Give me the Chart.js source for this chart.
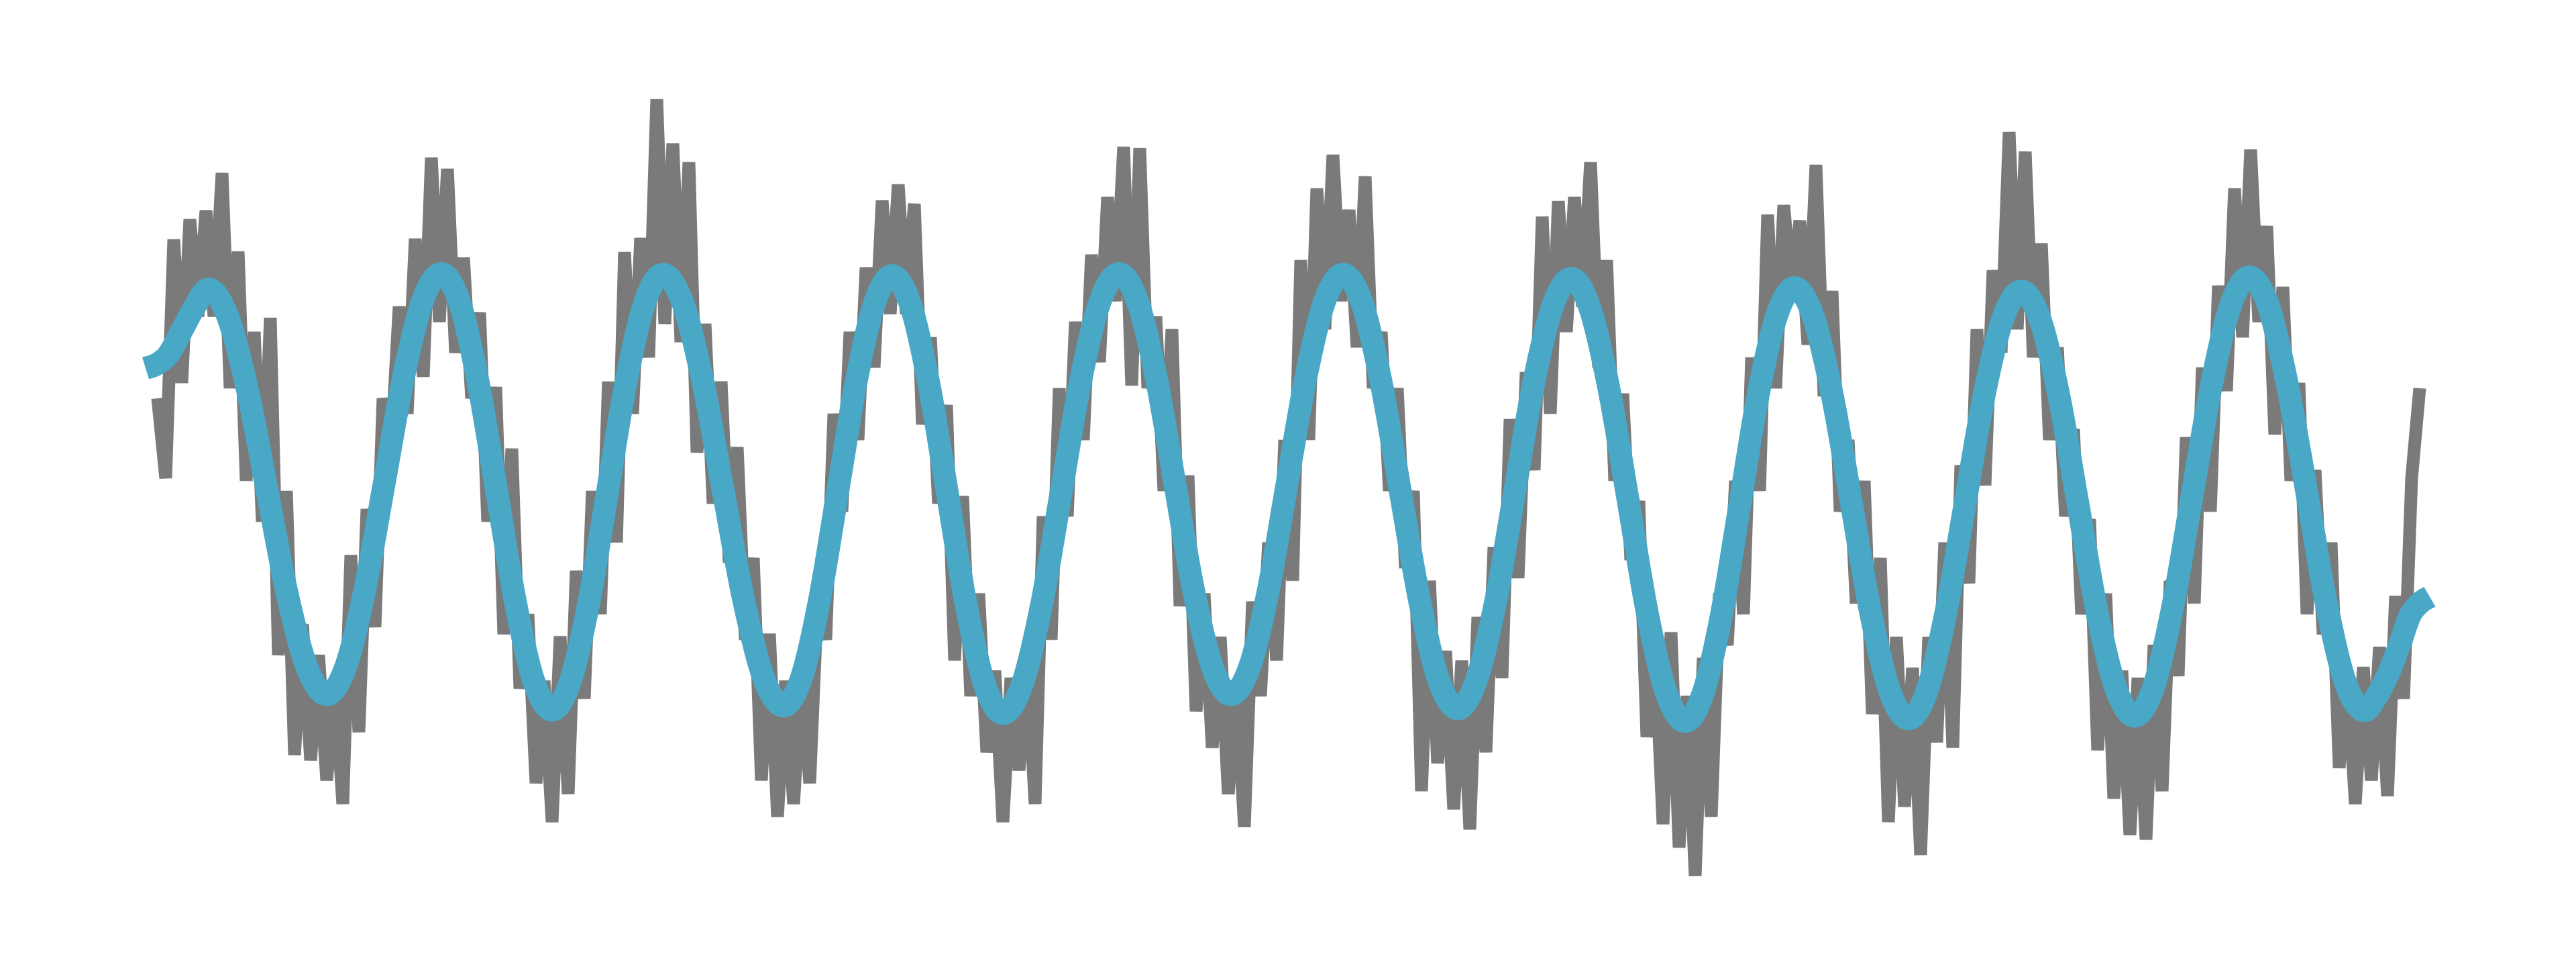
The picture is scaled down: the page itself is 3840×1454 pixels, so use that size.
<!DOCTYPE html>
<html>
<head>
<meta charset="utf-8">
<script src="https://cdn.jsdelivr.net/npm/chart.js@4.4.1/dist/chart.umd.min.js"></script>
<style>
html,body{margin:0;padding:0;background:#ffffff;overflow:hidden}
#wrap{width:3840px;height:1454px;position:relative}
</style>
</head>
<body>
<div id="wrap"><canvas id="c"></canvas></div>
<script>
// Smoothed signal: sample times and values
const smoothTime = [
  2.17, 2.30, 2.50, 2.70, 2.90, 3.10,
  3.395, 3.69, 3.985, 4.28, 4.575, 4.87,
  5.155, 5.44, 5.725, 6.01, 6.295, 6.58,
  6.855, 7.13, 7.405, 7.68, 7.955, 8.23,
  8.505, 8.78, 9.055, 9.33, 9.605, 9.88,
  10.18, 10.48, 10.78, 11.08, 11.38, 11.68,
  11.95, 12.22, 12.49, 12.76, 13.03, 13.30,
  13.575, 13.85, 14.125, 14.40, 14.675, 14.95,
  15.24, 15.53, 15.815, 16.10, 16.39, 16.68,
  16.96, 17.24, 17.515, 17.79, 18.07, 18.35,
  18.63, 18.91, 19.185, 19.46, 19.74, 20.02,
  20.305, 20.59, 20.875, 21.16, 21.445, 21.73,
  22.01, 22.295, 22.575, 22.855, 23.14, 23.42,
  23.70, 23.985, 24.27, 24.55, 24.835, 25.12,
  25.39, 25.665, 25.935, 26.205, 26.48, 26.75,
  27.03, 27.315, 27.60, 27.88, 28.165, 28.45,
  28.73, 29.01, 29.29, 29.57, 29.85, 30.13,
  30.41, 30.695, 30.975, 31.255, 31.54, 31.82,
  32.105, 32.39, 32.675, 32.96, 33.245, 33.53,
  33.815, 34.10, 34.39, 34.675, 34.96, 35.25,
  35.43, 35.60, 35.77, 35.93, 36.10, 36.22
];
const smoothValue = [
  1.91, 1.95, 2.10, 2.45, 2.82, 3.09,
  2.68, 1.58, 0.07, -1.45, -2.55, -2.96,
  -2.54, -1.39, 0.18, 1.75, 2.90, 3.32,
  2.88, 1.69, 0.07, -1.56, -2.75, -3.19,
  -2.75, -1.57, 0.06, 1.69, 2.87, 3.31,
  2.88, 1.70, 0.09, -1.52, -2.70, -3.13,
  -2.70, -1.53, 0.08, 1.69, 2.86, 3.29,
  2.85, 1.66, 0.03, -1.61, -2.80, -3.24,
  -2.80, -1.60, 0.04, 1.68, 2.88, 3.32,
  2.90, 1.75, 0.18, -1.39, -2.54, -2.96,
  -2.54, -1.39, 0.18, 1.74, 2.89, 3.31,
  2.88, 1.69, 0.07, -1.55, -2.74, -3.17,
  -2.74, -1.57, 0.04, 1.65, 2.82, 3.25,
  2.81, 1.60, -0.06, -1.71, -2.92, -3.36,
  -2.93, -1.75, -0.13, 1.49, 2.68, 3.11,
  2.68, 1.50, -0.11, -1.71, -2.89, -3.32,
  -2.89, -1.72, -0.13, 1.47, 2.63, 3.06,
  2.64, 1.48, -0.11, -1.70, -2.86, -3.28,
  -2.84, -1.64, 0.00, 1.63, 2.83, 3.27,
  2.84, 1.65, 0.04, -1.58, -2.77, -3.20,
  -2.98, -2.65, -2.22, -1.77, -1.57, -1.50
];
// Raw noisy signal, one value per sample
const rawValue = [
  1.46, 0.27, 3.83, 1.69, 4.13, 2.68, 4.26, 2.68, 4.82, 1.61,
  3.65, 0.23, 2.45, -0.38, 2.66, -2.37, 0.08, -3.86, -1.91, -3.94,
  -2.37, -4.24, -2.75, -4.59, -0.88, -3.52, -0.19, -1.95, 1.46, 0.69,
  2.83, 1.23, 3.84, 1.78, 5.05, 2.60, 4.88, 2.14, 3.56, 1.46,
  2.74, -0.38, 1.63, -2.06, 0.71, -2.87, -1.76, -4.28, -2.75, -4.86,
  -2.09, -4.44, -1.11, -3.02, 0.08, -1.76, 1.71, -0.69, 3.64, 1.23,
  3.85, 2.07, 5.92, 2.57, 5.26, 2.30, 4.98, 0.65, 2.57, -0.11,
  1.71, -0.99, 0.73, -2.14, -0.92, -4.24, -2.05, -4.78, -2.75, -4.59,
  -2.60, -4.28, -1.45, -2.14, 1.23, -0.23, 2.45, 0.84, 3.41, 1.92,
  4.41, 2.72, 4.65, 2.72, 4.36, 1.07, 2.37, -0.11, 1.36, -2.45,
  0.00, -2.98, -1.45, -3.82, -2.60, -4.86, -2.71, -4.09, -2.45, -4.59,
  -0.30, -2.14, 1.61, -0.30, 2.60, 0.84, 3.60, 2.00, 4.46, 2.91,
  5.21, 1.65, 5.19, 1.61, 2.68, 0.08, 2.49, -1.64, 0.31, -3.21,
  -1.45, -3.75, -2.10, -4.44, -2.75, -4.93, -1.57, -2.98, -0.69, -2.45,
  0.84, -1.26, 3.52, 0.84, 4.59, 2.49, 5.09, 2.91, 4.27, 2.22,
  4.77, 1.61, 2.45, 0.08, 1.61, -1.07, 0.08, -4.40, -1.26, -3.98,
  -2.31, -4.67, -2.45, -4.97, -1.80, -3.82, -0.76, -2.71, 1.15, -1.22,
  1.85, 0.39, 4.17, 1.23, 4.40, 2.45, 4.46, 2.83, 4.98, 1.92,
  3.52, 0.23, 1.53, -0.95, -0.07, -3.59, -2.22, -4.89, -2.03, -5.24,
  -2.98, -5.66, -2.41, -4.78, -1.45, -2.22, 0.23, -1.76, 2.07, 0.08,
  4.20, 1.61, 4.34, 2.99, 4.11, 2.26, 4.94, 1.49, 3.06, -0.23,
  0.84, -1.60, 0.23, -3.25, -0.92, -4.86, -2.10, -4.63, -2.56, -5.35,
  -2.10, -3.67, -0.69, -3.75, 0.46, -1.30, 2.49, 0.16, 3.37, 2.14,
  5.43, 2.49, 5.14, 2.07, 3.77, 0.84, 2.22, -0.30, 1.00, -1.76,
  -0.34, -3.79, -1.45, -4.51, -2.60, -5.05, -2.71, -5.12, -2.22, -4.40,
  -1.26, -2.68, 0.88, -1.60, 1.92, -0.23, 3.14, 1.57, 4.59, 2.37,
  5.17, 2.60, 4.03, 0.92, 3.12, 0.23, 1.69, -1.76, 0.39, -2.06,
  -0.69, -4.05, -2.60, -4.59, -2.55, -4.24, -2.25, -4.47, -1.49, -3.02,
  0.27, 1.61
];
// sample numbers of the raw signal
const rawSample = rawValue.map((_, i) => i);

const smoothPoints = smoothTime.map((t, i) => ({ x: t, y: smoothValue[i] }));
const rawPoints = rawSample.map((s, i) => ({ x: s, y: rawValue[i] }));

new Chart(document.getElementById('c'), {
  type: 'line',
  data: {
    datasets: [
      {
        label: 'smoothed',
        data: smoothPoints,
        xAxisID: 'x',
        yAxisID: 'y',
        borderColor: '#49a8c6',
        borderWidth: 34,
        pointRadius: 0,
        cubicInterpolationMode: 'monotone',
        borderJoinStyle: 'round',
        borderCapStyle: 'butt',
        fill: false,
        order: 0
      },
      {
        label: 'raw',
        data: rawPoints,
        xAxisID: 'xs',
        yAxisID: 'y',
        borderColor: '#7a7a7a',
        borderWidth: 19,
        pointRadius: 0,
        tension: 0,
        borderJoinStyle: 'bevel',
        borderCapStyle: 'butt',
        fill: false,
        order: 1
      }
    ]
  },
  options: {
    responsive: true,
    maintainAspectRatio: false,
    animation: false,
    devicePixelRatio: 1,
    events: [],
    layout: { padding: 0 },
    plugins: { legend: { display: false }, tooltip: { enabled: false }, title: { display: false } },
    scales: {
      x: { type: 'linear', axis: 'x', display: false, min: 0, max: 38.4 },
      xs: { type: 'linear', axis: 'x', display: false, min: -19.5833, max: 300.4167 },
      y: { type: 'linear', axis: 'y', display: false, min: -7.14, max: 7.40 }
    }
  }
});
</script>
</body>
</html>
